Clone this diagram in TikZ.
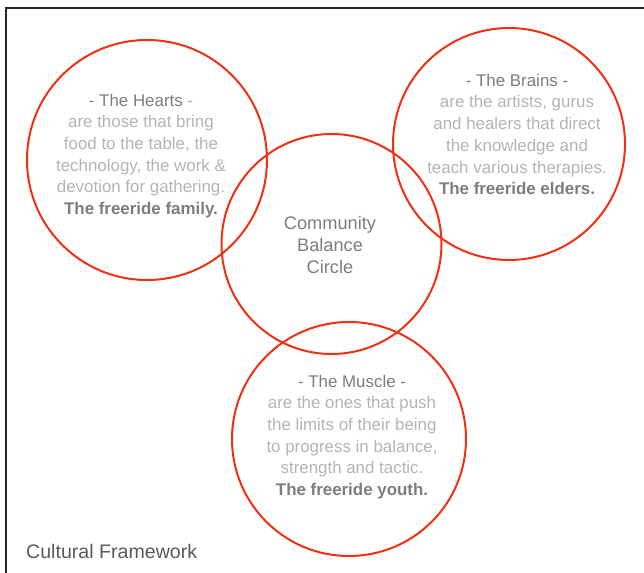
\documentclass[tikz,border=0pt]{standalone}
\usepackage{fontspec}
\setmainfont{Liberation Sans}
\definecolor{ringred}{RGB}{240,48,18}
\definecolor{darktxt}{RGB}{125,125,125}
\definecolor{lighttxt}{RGB}{180,180,180}
\definecolor{captxt}{RGB}{90,90,90}
\begin{document}
\begin{tikzpicture}[x=1pt,y=-1pt,
  ring/.style={circle, draw=ringred, line width=2pt, inner sep=0pt},
  body/.style={align=center, text=lighttxt, inner sep=0pt,
    font=\fontsize{16.9}{21.7}\selectfont},
]
\useasboundingbox (0,0) rectangle (644,572);
% frame
\coordinate (fbl) at (5.5,580);
\coordinate (ftr) at (650,8.5);
\draw[line width=2pt, black!85] (fbl) |- (ftr);

% circles
\node[ring, minimum size=240pt] (hearts) at (147,160) {};
\node[ring, minimum size=232pt] (brains) at (509,144) {};
\node[ring, minimum size=220pt] (community) at (331.5,244) {};
\node[ring, minimum size=234pt] (muscle) at (349,439) {};

% texts
\node[body] (heartstxt) at (141,156) {{\color{darktxt}- The Hearts} -\\
are those that bring\\
food to the table, the\\
technology, the work \&\\
devotion for gathering.\\
{\color{darktxt}\bfseries The freeride family.}};

\node[body] (brainstxt) at (517,134.5) {{\color{darktxt}- The Brains -}\\
are the artists, gurus\\
and healers that direct\\
the knowledge and\\
teach various therapies.\\
{\color{darktxt}\bfseries The freeride elders.}};

\node[body, text=darktxt, font=\fontsize{18.2}{21.6}\selectfont] (communitytxt) at (330,245) {Community\\Balance\\Circle};

\node[body] (muscletxt) at (352,437) {{\color{darktxt}- The Muscle -}\\
are the ones that push\\
the limits of their being\\
to progress in balance,\\
strength and tactic.\\
{\color{darktxt}\bfseries The freeride youth.}};

\node[anchor=base west, inner sep=0pt, text=captxt, font=\fontsize{19.6}{22}\selectfont] (caption) at (26,558) {Cultural Framework};
\end{tikzpicture}
\end{document}
